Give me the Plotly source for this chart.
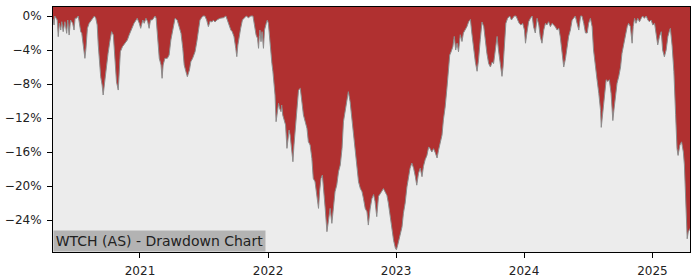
import plotly.graph_objects as go

TITLE = "WTCH (AS) - Drawdown Chart"

DATES = [
    "2020-04-28", "2020-05-01", "2020-05-03", "2020-05-10", "2020-05-13", "2020-05-16", "2020-05-20",
    "2020-05-23", "2020-05-27", "2020-06-01", "2020-06-06", "2020-06-09", "2020-06-13", "2020-06-17",
    "2020-06-23", "2020-06-27", "2020-06-30", "2020-07-04", "2020-07-09", "2020-07-12", "2020-07-16",
    "2020-07-19", "2020-07-23", "2020-07-28", "2020-07-31", "2020-08-04", "2020-08-09", "2020-08-16",
    "2020-08-24", "2020-08-28", "2020-09-01", "2020-09-04", "2020-09-07", "2020-09-11", "2020-09-15",
    "2020-09-18", "2020-09-23", "2020-09-28", "2020-10-02", "2020-10-07", "2020-10-12", "2020-10-17",
    "2020-10-22", "2020-10-26", "2020-10-31", "2020-11-02", "2020-11-06", "2020-11-12", "2020-11-19",
    "2020-11-26", "2020-12-01", "2020-12-08", "2020-12-15", "2020-12-21", "2020-12-24", "2020-12-30",
    "2021-01-03", "2021-01-09", "2021-01-13", "2021-01-18", "2021-01-23", "2021-01-27", "2021-01-31",
    "2021-02-05", "2021-02-13", "2021-02-16", "2021-02-19", "2021-02-22", "2021-02-25", "2021-03-02",
    "2021-03-05", "2021-03-08", "2021-03-13", "2021-03-20", "2021-03-25", "2021-03-30", "2021-04-04",
    "2021-04-11", "2021-04-17", "2021-04-23", "2021-04-28", "2021-05-03", "2021-05-07", "2021-05-12",
    "2021-05-16", "2021-05-22", "2021-05-26", "2021-05-31", "2021-06-07", "2021-06-12", "2021-06-16",
    "2021-06-21", "2021-06-29", "2021-07-05", "2021-07-10", "2021-07-15", "2021-07-20", "2021-07-25",
    "2021-07-29", "2021-08-03", "2021-08-08", "2021-08-17", "2021-08-27", "2021-09-03", "2021-09-07",
    "2021-09-12", "2021-09-17", "2021-09-21", "2021-09-26", "2021-10-01", "2021-10-04", "2021-10-07",
    "2021-10-10", "2021-10-15", "2021-10-20", "2021-10-25", "2021-10-31", "2021-11-06", "2021-11-13",
    "2021-11-19", "2021-11-22", "2021-11-25", "2021-11-28", "2021-12-02", "2021-12-05", "2021-12-07",
    "2021-12-09", "2021-12-12", "2021-12-15", "2021-12-19", "2021-12-22", "2021-12-27", "2021-12-30",
    "2022-01-02", "2022-01-05", "2022-01-09", "2022-01-12", "2022-01-15", "2022-01-18", "2022-01-21",
    "2022-01-24", "2022-01-27", "2022-01-31", "2022-02-03", "2022-02-07", "2022-02-09", "2022-02-12",
    "2022-02-16", "2022-02-20", "2022-02-24", "2022-02-27", "2022-03-02", "2022-03-05", "2022-03-09",
    "2022-03-13", "2022-03-16", "2022-03-20", "2022-03-24", "2022-03-29", "2022-04-03", "2022-04-07",
    "2022-04-12", "2022-04-17", "2022-04-22", "2022-04-26", "2022-05-01", "2022-05-06", "2022-05-10",
    "2022-05-15", "2022-05-18", "2022-05-22", "2022-05-25", "2022-05-28", "2022-06-01", "2022-06-05",
    "2022-06-08", "2022-06-13", "2022-06-18", "2022-06-22", "2022-06-27", "2022-07-02", "2022-07-07",
    "2022-07-11", "2022-07-16", "2022-07-21", "2022-07-26", "2022-07-31", "2022-08-04", "2022-08-09",
    "2022-08-14", "2022-08-18", "2022-08-23", "2022-08-28", "2022-09-02", "2022-09-07", "2022-09-11",
    "2022-09-16", "2022-09-21", "2022-09-26", "2022-09-30", "2022-10-05", "2022-10-10", "2022-10-14",
    "2022-10-19", "2022-10-24", "2022-10-29", "2022-11-02", "2022-11-07", "2022-11-12", "2022-11-17",
    "2022-11-22", "2022-11-26", "2022-12-01", "2022-12-06", "2022-12-10", "2022-12-15", "2022-12-20",
    "2022-12-25", "2022-12-30", "2023-01-02", "2023-01-06", "2023-01-11", "2023-01-18", "2023-01-22",
    "2023-01-27", "2023-02-01", "2023-02-06", "2023-02-10", "2023-02-15", "2023-02-20", "2023-02-25",
    "2023-03-01", "2023-03-06", "2023-03-11", "2023-03-16", "2023-03-20", "2023-03-25", "2023-03-30",
    "2023-04-04", "2023-04-08", "2023-04-13", "2023-04-18", "2023-04-23", "2023-04-28", "2023-05-02",
    "2023-05-07", "2023-05-12", "2023-05-16", "2023-05-21", "2023-05-26", "2023-05-31", "2023-06-03",
    "2023-06-07", "2023-06-12", "2023-06-16", "2023-06-20", "2023-06-24", "2023-06-28", "2023-07-03",
    "2023-07-08", "2023-07-12", "2023-07-17", "2023-07-22", "2023-07-27", "2023-08-01", "2023-08-05",
    "2023-08-10", "2023-08-15", "2023-08-20", "2023-08-24", "2023-08-29", "2023-09-03", "2023-09-08",
    "2023-09-12", "2023-09-17", "2023-09-22", "2023-09-27", "2023-10-02", "2023-10-06", "2023-10-11",
    "2023-10-16", "2023-10-20", "2023-10-25", "2023-10-30", "2023-11-02", "2023-11-06", "2023-11-10",
    "2023-11-15", "2023-11-21", "2023-11-26", "2023-11-29", "2023-12-04", "2023-12-09", "2023-12-14",
    "2023-12-18", "2023-12-23", "2023-12-28", "2024-01-02", "2024-01-05", "2024-01-09", "2024-01-14",
    "2024-01-19", "2024-01-24", "2024-01-28", "2024-02-02", "2024-02-07", "2024-02-12", "2024-02-16",
    "2024-02-21", "2024-02-26", "2024-03-02", "2024-03-06", "2024-03-11", "2024-03-16", "2024-03-21",
    "2024-03-25", "2024-03-30", "2024-04-04", "2024-04-09", "2024-04-13", "2024-04-18", "2024-04-23",
    "2024-04-28", "2024-05-03", "2024-05-07", "2024-05-12", "2024-05-17", "2024-05-21", "2024-05-26",
    "2024-05-31", "2024-06-05", "2024-06-10", "2024-06-14", "2024-06-19", "2024-06-24", "2024-06-29",
    "2024-07-03", "2024-07-08", "2024-07-13", "2024-07-17", "2024-07-22", "2024-07-27", "2024-08-01",
    "2024-08-06", "2024-08-08", "2024-08-12", "2024-08-17", "2024-08-22", "2024-08-27", "2024-08-31",
    "2024-09-05", "2024-09-10", "2024-09-13", "2024-09-17", "2024-09-22", "2024-09-27", "2024-10-02",
    "2024-10-06", "2024-10-11", "2024-10-16", "2024-10-21", "2024-10-25", "2024-10-30", "2024-11-04",
    "2024-11-07", "2024-11-11", "2024-11-15", "2024-11-20", "2024-11-25", "2024-11-30", "2024-12-04",
    "2024-12-09", "2024-12-14", "2024-12-19", "2024-12-23", "2024-12-28", "2025-01-02", "2025-01-07",
    "2025-01-12", "2025-01-16", "2025-01-21", "2025-01-26", "2025-01-30", "2025-02-04", "2025-02-09",
    "2025-02-14", "2025-02-19", "2025-02-21", "2025-02-26", "2025-03-03", "2025-03-08", "2025-03-12",
    "2025-03-15", "2025-03-20", "2025-03-25", "2025-03-30", "2025-04-02", "2025-04-05", "2025-04-08",
    "2025-04-10", "2025-04-13", "2025-04-18",
]

DRAWDOWN_PCT = [
    -0.3, -1.06, 0.0, -0.47, -2.43, -0.86, -1.65,
    -0.67, -1.84, -0.67, -2.04, -0.47, -2.24, -0.47,
    -0.86, -1.65, -0.27, -0.27, 0.0, -0.86, -1.84,
    -2.04, -3.41, -4.98, -3.80, -1.45, -0.86, -0.47,
    0.0, -0.27, -1.06, -3.41, -5.18, -7.14, -8.12,
    -9.29, -7.53, -5.37, -4.39, -3.02, -1.84, -2.24,
    -5.37, -7.73, -8.71, -6.55, -4.20, -3.61, -3.22,
    -2.82, -2.24, -1.45, -0.86, -0.47, -0.27, -0.86,
    -1.45, -0.47, -0.86, -0.27, -0.67, -1.45, -0.47,
    -0.47, 0.0, -0.27, -1.84, -3.80, -4.98, -5.76,
    -7.33, -5.76, -4.98, -4.98, -4.59, -2.82, -1.65,
    -0.27, -0.47, -1.45, -2.04, -3.80, -5.76, -6.55,
    -7.14, -6.35, -5.37, -4.98, -4.20, -3.02, -1.65,
    -0.47, 0.0, 0.0, -0.47, -1.25, -0.6, -0.7,
    -0.5, -0.7, -0.47, -0.27, -0.2, 0.0, -0.47,
    -1.06, -1.65, -1.84, -2.43, -3.80, -4.78, -3.41,
    -2.43, -1.45, -0.47, -0.27, 0.0, -0.2, 0.0,
    0.0, -0.67, -1.45, -2.24, -2.63, -3.80, -2.43,
    -1.65, -3.02, -1.84, -3.80, -1.65, -0.86, -0.47,
    -0.86, -2.63, -4.59, -5.57, -6.55, -7.73, -9.29,
    -12.43, -11.25, -10.27, -10.86, -11.25, -10.47, -11.65,
    -12.24, -12.82, -15.57, -14.39, -13.41, -14.0, -15.57,
    -17.14, -15.18, -12.82, -10.47, -8.71, -8.51, -10.08,
    -11.65, -12.43, -13.22, -14.78, -15.18, -16.75, -19.10,
    -19.49, -20.47, -21.45, -22.63, -20.67, -19.10, -18.71,
    -20.67, -22.63, -25.37, -23.80, -22.63, -24.39, -22.24,
    -20.67, -19.88, -18.31, -17.53, -15.57, -12.43, -11.25,
    -10.08, -8.90, -10.08, -12.04, -14.39, -16.35, -17.14,
    -19.49, -20.27, -20.67, -21.45, -22.63, -23.02, -24.59,
    -22.7, -21.5, -21.0, -21.8, -23.6, -21.2, -20.9,
    -20.5, -20.3, -20.7, -21.1, -22.0, -23.6, -25.2,
    -26.4, -27.3, -27.5, -26.9, -26.0, -24.8, -23.2,
    -22.0, -20.1, -18.9, -17.9, -17.3, -17.9, -18.9,
    -19.9, -18.5, -17.9, -18.9, -17.7, -16.9, -16.4,
    -15.4, -15.6, -16.0, -15.6, -16.1, -16.7, -15.8,
    -15.0, -14.0, -12.2, -10.7, -8.5, -6.0, -4.6,
    -4.2, -3.6, -2.4, -4.0, -3.2, -4.2, -2.2,
    -3.0, -2.0, -1.7, -1.25, -0.67, -0.4, -2.0,
    -4.0, -5.4, -6.5, -5.2, -2.8, -0.7, -1.25,
    -2.8, -4.4, -5.6, -6.0, -5.4, -5.6, -4.0,
    -2.4, -4.0, -5.6, -7.1, -6.0, -3.2, -0.86,
    -0.27, 0.0, -0.47, -0.27, 0.0, 0.0, -0.47,
    -0.86, -1.06, -0.86, -1.65, -3.2, -2.0, -0.67,
    -0.27, 0.0, -1.25, -2.0, -0.27, -1.06, -2.4,
    -3.2, -1.65, -0.86, -1.06, -0.67, -1.25, -0.86,
    -1.06, -1.25, -1.65, -1.45, -2.4, -4.0, -6.0,
    -5.0, -3.6, -2.4, -1.65, -0.47, -0.27, 0.0,
    -0.86, -1.65, 0.0, 0.0, -0.86, -2.0, -2.0,
    -0.86, -0.27, -1.25, -4.0, -6.0, -7.5, -9.1,
    -11.1, -13.1, -11.5, -9.1, -7.5, -7.7, -7.5,
    -9.1, -12.3, -11.1, -9.5, -7.9, -7.1, -6.0,
    -4.4, -3.2, -2.0, -1.25, -0.86, -1.25, -3.2,
    -1.25, -0.27, -0.86, -0.27, -0.67, -0.27, 0.0,
    -0.27, 0.0, -0.47, -0.67, -0.47, -1.06, -0.86,
    -2.0, -3.4, -2.4, -1.84, -4.0, -4.8, -4.0,
    -2.4, -1.65, -1.45, -3.5, -6.5, -11.6, -15.6,
    -16.4, -15.2, -14.8, -16.0, -17.5, -21.5, -24.6,
    -26.2, -25.4, -25.0,
]

Y_TICKS = [0, -4, -8, -12, -16, -20, -24]
Y_TICK_LABELS = ["0%", "\u22124%", "\u22128%", "\u221212%", "\u221216%", "\u221220%", "\u221224%"]
X_TICKS = ["2021-01-01", "2022-01-01", "2023-01-01", "2024-01-01", "2025-01-01"]
X_TICK_LABELS = ["2021", "2022", "2023", "2024", "2025"]
Y_MIN, Y_MAX = -27.76, 1.06

RED = "#b03030"
BG = "#ececec"

fig = go.Figure()
# upper bound of the filled region (top of the axis)
fig.add_trace(go.Scatter(
    x=DATES, y=[Y_MAX] * len(DATES), mode="lines",
    line=dict(width=0, color=RED), hoverinfo="skip", showlegend=False,
))
fig.add_trace(go.Scatter(
    x=DATES, y=DRAWDOWN_PCT, mode="lines", fill="tonexty", fillcolor=RED,
    line=dict(color="#8c8c8c", width=1), showlegend=False,
))

axis_common = dict(
    showline=True, linecolor="black", linewidth=1, mirror=True,
    ticks="outside", ticklen=5, tickcolor="black", tickwidth=1,
    ticklabelstandoff=3, automargin=False,
    showgrid=False, zeroline=False,
    tickfont=dict(family="DejaVu Sans", size=12, color="#222222"),
)

fig.update_layout(
    width=700, height=280,
    margin=dict(l=53, r=10, t=7, b=28),
    paper_bgcolor="white", plot_bgcolor=BG,
    xaxis=dict(type="date", range=[DATES[0], DATES[-1]], tickvals=X_TICKS,
               ticktext=X_TICK_LABELS, **axis_common),
    yaxis=dict(range=[Y_MIN, Y_MAX], tickvals=Y_TICKS, ticktext=Y_TICK_LABELS,
               **axis_common),
    annotations=[dict(
        text=TITLE, xref="paper", yref="paper", x=0, y=0,
        xanchor="left", yanchor="bottom", showarrow=False,
        font=dict(family="DejaVu Sans", size=14, color="#222222"),
        bgcolor="#b3b3b3", borderpad=2, width=207, height=16,
    )],
)

fig.write_html("out.html")
